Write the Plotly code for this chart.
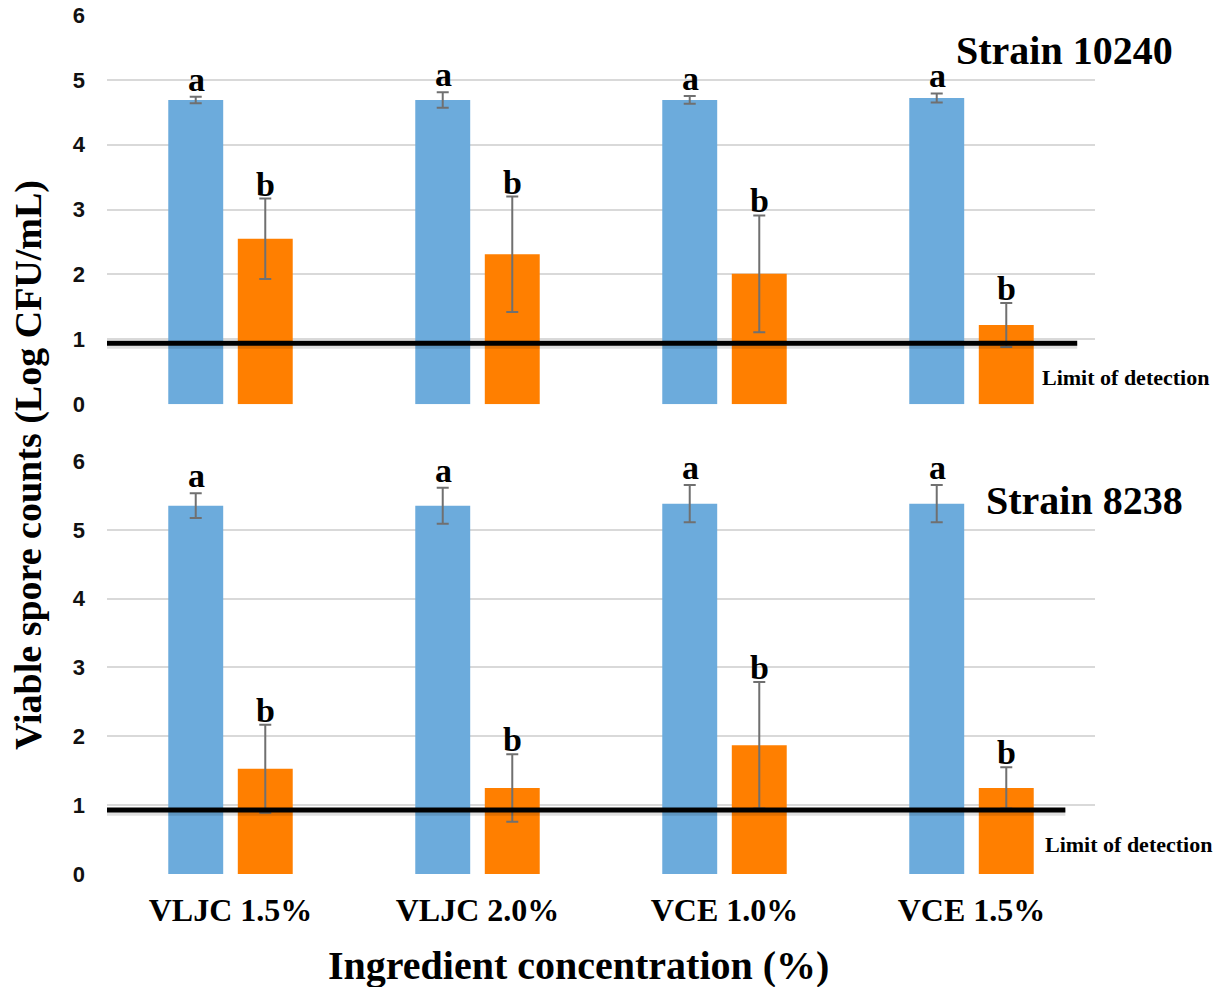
import plotly.graph_objects as go

categories = ["VLJC 1.5%", "VLJC 2.0%", "VCE 1.0%", "VCE 1.5%"]

# Strain 10240 (top panel)
s10240_control = [4.69, 4.69, 4.69, 4.72]
s10240_control_err = [0.05, 0.12, 0.06, 0.07]
s10240_treated = [2.55, 2.31, 2.01, 1.22]
s10240_treated_err = [0.62, 0.89, 0.90, 0.34]

# Strain 8238 (bottom panel)
s8238_control = [5.35, 5.35, 5.38, 5.38]
s8238_control_err = [0.18, 0.26, 0.27, 0.27]
s8238_treated = [1.53, 1.25, 1.87, 1.25]
s8238_treated_err = [0.64, 0.49, 0.92, 0.30]

control_letters = ["a", "a", "a", "a"]
treated_letters = ["b", "b", "b", "b"]

limit_of_detection = [0.94, 0.93]  # top, bottom panel line level

y_ticks = [0, 1, 2, 3, 4, 5, 6]

BLUE = "#6CABDC"
ORANGE = "#FF7F00"
ERR = "#707070"
SERIF = "Liberation Serif"

fig = go.Figure()

panels = [
    ("x", "y", s10240_control, s10240_control_err, s10240_treated, s10240_treated_err),
    ("x2", "y2", s8238_control, s8238_control_err, s8238_treated, s8238_treated_err),
]

for xa, ya, c, ce, t, te in panels:
    fig.add_trace(go.Bar(
        x=categories, y=c, xaxis=xa, yaxis=ya, marker_color=BLUE, marker_line_width=0,
        error_y=dict(type="data", array=ce, color=ERR, thickness=2, width=6),
        showlegend=False, hoverinfo="skip",
    ))
    fig.add_trace(go.Bar(
        x=categories, y=t, xaxis=xa, yaxis=ya, marker_color=ORANGE, marker_line_width=0,
        error_y=dict(type="data", array=te, color=ERR, thickness=2, width=6),
        showlegend=False, hoverinfo="skip",
    ))

annotations = []
# significance letters
for (xa, ya, c, ce, t, te) in panels:
    for i, cat in enumerate(categories):
        annotations.append(dict(
            x=i, y=c[i] + ce[i], xref=xa, yref=ya, text=control_letters[i],
            showarrow=False, xanchor="center", yanchor="bottom", xshift=-34, yshift=-3,
            font=dict(family=SERIF, size=34, color="black", weight="bold"),
        ))
        annotations.append(dict(
            x=i, y=t[i] + te[i], xref=xa, yref=ya, text=treated_letters[i],
            showarrow=False, xanchor="center", yanchor="bottom", xshift=35, yshift=-6,
            font=dict(family=SERIF, size=34, color="black", weight="bold"),
        ))

# panel labels (positions given in pixels, converted to paper below)
pix_annotations = [
    dict(x=1064, y=50, text="Strain 10240", textangle=0,
         font=dict(family=SERIF, size=40, color="black", weight="bold")),
    dict(x=1084, y=500, text="Strain 8238", textangle=0,
         font=dict(family=SERIF, size=40, color="black", weight="bold")),
    dict(x=1125, y=378, text="Limit of detection", textangle=0,
         font=dict(family=SERIF, size=22, color="black", weight="bold")),
    dict(x=1128, y=844, text="Limit of detection", textangle=0,
         font=dict(family=SERIF, size=22, color="black", weight="bold")),
    dict(x=578, y=966, text="Ingredient concentration (%)", textangle=0,
         font=dict(family=SERIF, size=40, color="black", weight="bold")),
    dict(x=28, y=465, text="Viable spore counts (Log CFU/mL)", textangle=-90,
         font=dict(family=SERIF, size=38, color="black", weight="bold")),
]

W, H = 1228, 987
ML, MR, MT, MB = 107, 133, 15, 113
PW, PH = W - ML - MR, H - MT - MB
for a in pix_annotations:
    a.update(xref="paper", yref="paper", showarrow=False, xanchor="center", yanchor="middle",
             x=(a["x"] - ML) / PW, y=(H - MB - a["y"]) / PH)
    annotations.append(a)

shapes = []
for ya, xr, lod, x1 in [("y", "x domain", limit_of_detection[0], 0.982),
                        ("y2", "x2 domain", limit_of_detection[1], 0.970)]:
    shapes.append(dict(type="line", xref=xr, yref=ya, x0=0.0, x1=x1, y0=lod - 0.04, y1=lod - 0.04,
                       line=dict(color="rgba(0,0,0,0.12)", width=6), layer="above"))
    shapes.append(dict(type="line", xref=xr, yref=ya, x0=0.0, x1=x1, y0=lod, y1=lod,
                       line=dict(color="black", width=5), layer="above"))

yaxis_common = dict(
    range=[0, 6], tickvals=y_ticks, showgrid=True, gridcolor="#D9D9D9", gridwidth=2,
    zeroline=False, showline=False, ticklabelstandoff=21, automargin=False,
    tickfont=dict(family="Liberation Sans", size=22, color="#111111", weight="bold"),
)

fig.update_layout(
    template="none",
    width=W, height=H,
    margin=dict(l=ML, r=MR, t=MT, b=MB),
    paper_bgcolor="white", plot_bgcolor="white",
    barmode="group", bargap=0.437, bargroupgap=0.21,
    xaxis=dict(domain=[0, 1], anchor="y", showticklabels=False, showgrid=False, ticks="",
               zeroline=False, showline=False, range=[-0.5, 3.5], automargin=False),
    yaxis=dict(domain=[0.547, 1.0], anchor="x", **yaxis_common),
    xaxis2=dict(domain=[0, 1], anchor="y2", showgrid=False, zeroline=False, showline=False, ticks="",
                range=[-0.5, 3.5], ticklabelstandoff=14, automargin=False,
                tickfont=dict(family=SERIF, size=32, color="black", weight="bold")),
    yaxis2=dict(domain=[0, 0.4808], anchor="x2", **yaxis_common),
    annotations=annotations,
    shapes=shapes,
)

fig.write_html("out.html")
